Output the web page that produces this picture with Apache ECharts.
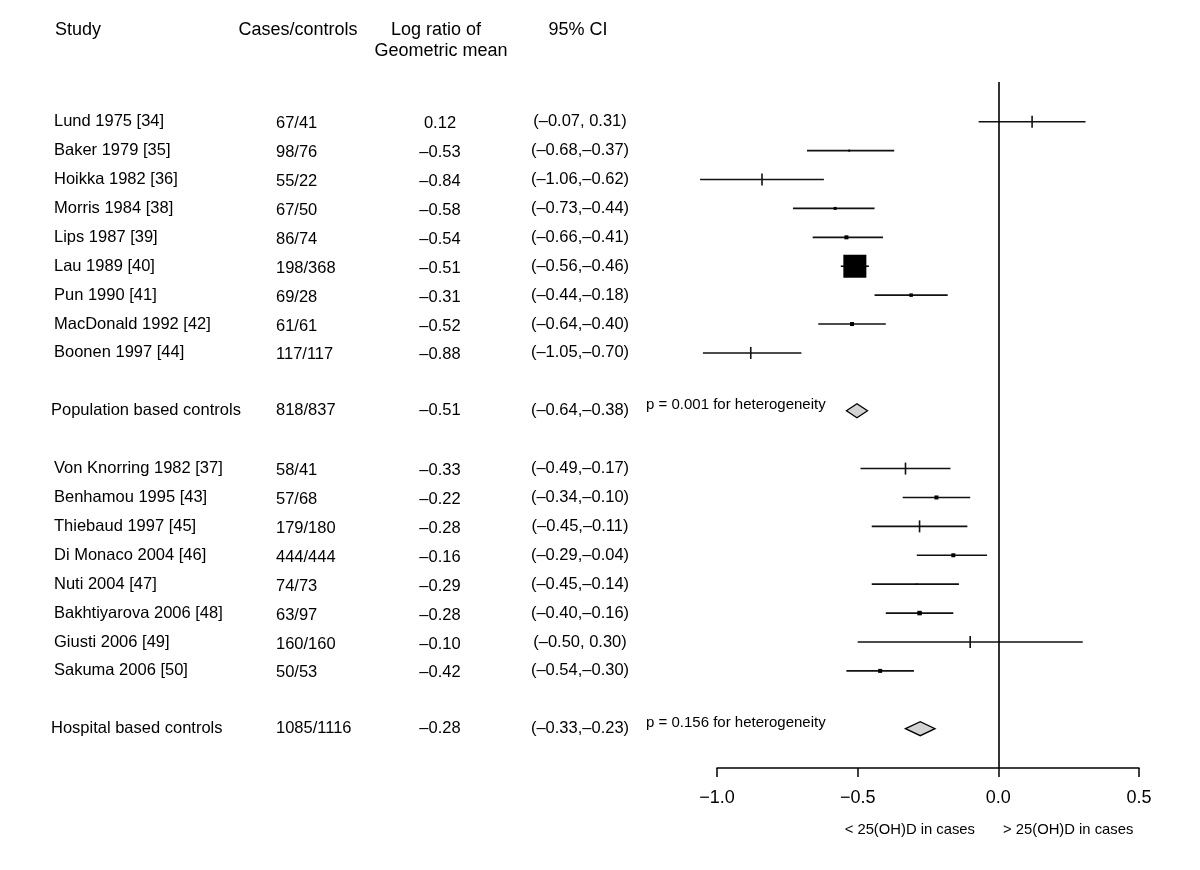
<!DOCTYPE html>
<html><head><meta charset="utf-8">
<script src="https://cdn.jsdelivr.net/npm/echarts@6/dist/echarts.min.js"></script>
<style>html,body{margin:0;padding:0;background:#fff}#c{width:1200px;height:870px}</style>
</head><body><div id="c"></div>
<script>
// ---------- DATA ----------
const popStudies = ["Lund 1975 [34]", "Baker 1979 [35]", "Hoikka 1982 [36]", "Morris 1984 [38]", "Lips 1987 [39]", "Lau 1989 [40]", "Pun 1990 [41]", "MacDonald 1992 [42]", "Boonen 1997 [44]"];
const popCases = ["67/41", "98/76", "55/22", "67/50", "86/74", "198/368", "69/28", "61/61", "117/117"];
const popEst = [0.12, -0.53, -0.84, -0.58, -0.54, -0.51, -0.31, -0.52, -0.88];
const popLo = [-0.07, -0.68, -1.06, -0.73, -0.66, -0.56, -0.44, -0.64, -1.05];
const popHi = [0.31, -0.37, -0.62, -0.44, -0.41, -0.46, -0.18, -0.40, -0.70];
const popWeight = [0, 2, 0, 3, 4, 23, 3.5, 4, 0];   // relative box weight, 0 = drawn as a tick

const hospStudies = ["Von Knorring 1982 [37]", "Benhamou 1995 [43]", "Thiebaud 1997 [45]", "Di Monaco 2004 [46]", "Nuti 2004 [47]", "Bakhtiyarova 2006 [48]", "Giusti 2006 [49]", "Sakuma 2006 [50]"];
const hospCases = ["58/41", "57/68", "179/180", "444/444", "74/73", "63/97", "160/160", "50/53"];
const hospEst = [-0.33, -0.22, -0.28, -0.16, -0.29, -0.28, -0.10, -0.42];
const hospLo = [-0.49, -0.34, -0.45, -0.29, -0.45, -0.40, -0.50, -0.54];
const hospHi = [-0.17, -0.10, -0.11, -0.04, -0.14, -0.16, 0.30, -0.30];
const hospWeight = [0, 4, 0, 4, 1.5, 4.5, 0, 4];

const summaryLabels = ["Population based controls", "Hospital based controls"];
const summaryCases = ["818/837", "1085/1116"];
const summaryEst = [-0.51, -0.28];
const summaryLo = [-0.64, -0.33];
const summaryHi = [-0.38, -0.23];
const diamondLo = [-0.54, -0.33];
const diamondHi = [-0.465, -0.225];
const heterogeneity = ["p = 0.001 for heterogeneity", "p = 0.156 for heterogeneity"];

const headers = ["Study", "Cases/controls", "Log ratio of\nGeometric mean", "95% CI"];
const xTickLabels = ["\u22121.0", "\u22120.5", "0.0", "0.5"];
const xTickValues = [-1.0, -0.5, 0.0, 0.5];
const sideLabels = ["< 25(OH)D in cases", "> 25(OH)D in cases"];

// ---------- BUILD ROWS ----------
const FONT = '"Liberation Sans", Arial, Helvetica, sans-serif';
const fmt = v => (v < 0 ? "\u2013" : "") + Math.abs(v).toFixed(2);
const fmtCI = (lo, hi) => "(" + fmt(lo) + "," + (hi >= 0 ? " " : "") + fmt(hi) + ")";

const groups = [
  {studies: popStudies, cases: popCases, est: popEst, lo: popLo, hi: popHi, w: popWeight},
  {studies: hospStudies, cases: hospCases, est: hospEst, lo: hospLo, hi: hospHi, w: hospWeight}
];
const studyRows = [];   // [lo,row,hi,est,weight]
const summaryRows = []; // [dlo,row,dhi,est]
const textRows = [];    // {row, name, cases, est, ci, p, kind}
let row = 0;
groups.forEach((g, gi) => {
  g.studies.forEach((s, i) => {
    studyRows.push([g.lo[i], row, g.hi[i], g.est[i], g.w[i]]);
    textRows.push({row, name: s, cases: g.cases[i], est: fmt(g.est[i]), ci: fmtCI(g.lo[i], g.hi[i]), kind: 'study'});
    row++;
  });
  row++;
  summaryRows.push([diamondLo[gi], row, diamondHi[gi], summaryEst[gi]]);
  textRows.push({row, name: summaryLabels[gi], cases: summaryCases[gi], est: fmt(summaryEst[gi]),
    ci: fmtCI(summaryLo[gi], summaryHi[gi]), p: heterogeneity[gi], kind: 'summary'});
  row += 2;
});

const chart = echarts.init(document.getElementById('c'), null, {renderer: 'canvas'});

const txt = (text, x, y, size, align) => ({
  type: 'text', x: x, y: y,
  style: {text: text, fontSize: size, fontFamily: FONT, fill: '#000',
    align: align, textAlign: align, verticalAlign: 'middle', textVerticalAlign: 'middle'}
});

chart.setOption({
  animation: false,
  backgroundColor: '#fff',
  grid: {left: 717, width: 422, top: 82, height: 686},
  xAxis: {
    type: 'value', min: -1, max: 0.5, interval: 0.5,
    splitLine: {show: false},
    axisLine: {show: true, onZero: false, lineStyle: {color: '#000', width: 1.5}},
    axisTick: {show: true, length: 9, lineStyle: {color: '#000', width: 1.5}},
    axisLabel: {fontSize: 18, color: '#000', fontFamily: FONT, margin: 21,
      formatter: v => { const i = xTickValues.findIndex(t => Math.abs(t - v) < 1e-9); return i >= 0 ? xTickLabels[i] : ''; }}
  },
  yAxis: {type: 'value', inverse: true, min: -1.374, max: 22.36, show: false, splitLine: {show: false}},
  graphic: [
    txt(headers[0], 55, 30, 18, 'left'),
    txt(headers[1], 298, 30, 18, 'center'),
    txt(headers[2].split("\n")[0], 436, 30, 18, 'center'),
    txt(headers[2].split("\n")[1], 441, 51, 18, 'center'),
    txt(headers[3], 578, 30, 18, 'center'),
    txt(sideLabels[0], 975, 830, 14.8, 'right'),
    txt(sideLabels[1], 1003, 830, 14.8, 'left')
  ],
  series: [
    {
      type: 'line', data: [], silent: true,
      markLine: {symbol: 'none', silent: true, label: {show: false},
        lineStyle: {color: '#000', width: 1.6, type: 'solid'}, data: [{xAxis: 0}]}
    },
    {
      type: 'custom', clip: false, silent: true,
      data: studyRows,
      encode: {x: [0, 2, 3], y: 1},
      renderItem: (params, api) => {
        const r = api.value(1);
        const a = api.coord([api.value(0), r]);
        const b = api.coord([api.value(2), r]);
        const e = api.coord([api.value(3), r]);
        const w = api.value(4);
        const ch = [{type: 'line', shape: {x1: a[0], y1: a[1], x2: b[0], y2: b[1]},
          style: {stroke: '#111', lineWidth: 1.6}}];
        if (w === 0) {
          ch.push({type: 'line', shape: {x1: e[0], y1: e[1] - 6, x2: e[0], y2: e[1] + 6},
            style: {stroke: '#111', lineWidth: 1.6}});
        } else {
          ch.push({type: 'rect', shape: {x: e[0] - w / 2, y: e[1] - w / 2, width: w, height: w},
            style: {fill: '#000'}});
        }
        return {type: 'group', children: ch};
      }
    },
    {
      type: 'custom', clip: false, silent: true,
      data: summaryRows,
      encode: {x: [0, 2], y: 1},
      renderItem: (params, api) => {
        const r = api.value(1);
        const a = api.coord([api.value(0), r]);
        const b = api.coord([api.value(2), r]);
        const mx = (a[0] + b[0]) / 2;
        return {type: 'polygon', shape: {points: [[a[0], a[1]], [mx, a[1] - 7], [b[0], b[1]], [mx, a[1] + 7]]},
          style: {fill: '#d3d3d3', stroke: '#000', lineWidth: 1.3}};
      }
    },
    {
      type: 'custom', clip: false, silent: true,
      data: textRows.map(t => [0, t.row]),
      encode: {x: 0, y: 1},
      renderItem: (params, api) => {
        const t = textRows[params.dataIndex];
        const y = api.coord([0, t.row])[1];
        const dy = t.kind === 'study' ? 2 : 0;
        const nx = t.kind === 'study' ? 54 : 51;
        const ch = [
          txt(t.name, nx, y, 16.5, 'left'),
          txt(t.cases, 276, y + dy, 16.5, 'left'),
          txt(t.est, 440, y + dy, 16.5, 'center'),
          txt(t.ci, 580, y, 16.5, 'center')
        ];
        if (t.p) ch.push(txt(t.p, 646, y - 6, 15, 'left'));
        return {type: 'group', children: ch};
      }
    }
  ]
});
</script>
</body></html>
